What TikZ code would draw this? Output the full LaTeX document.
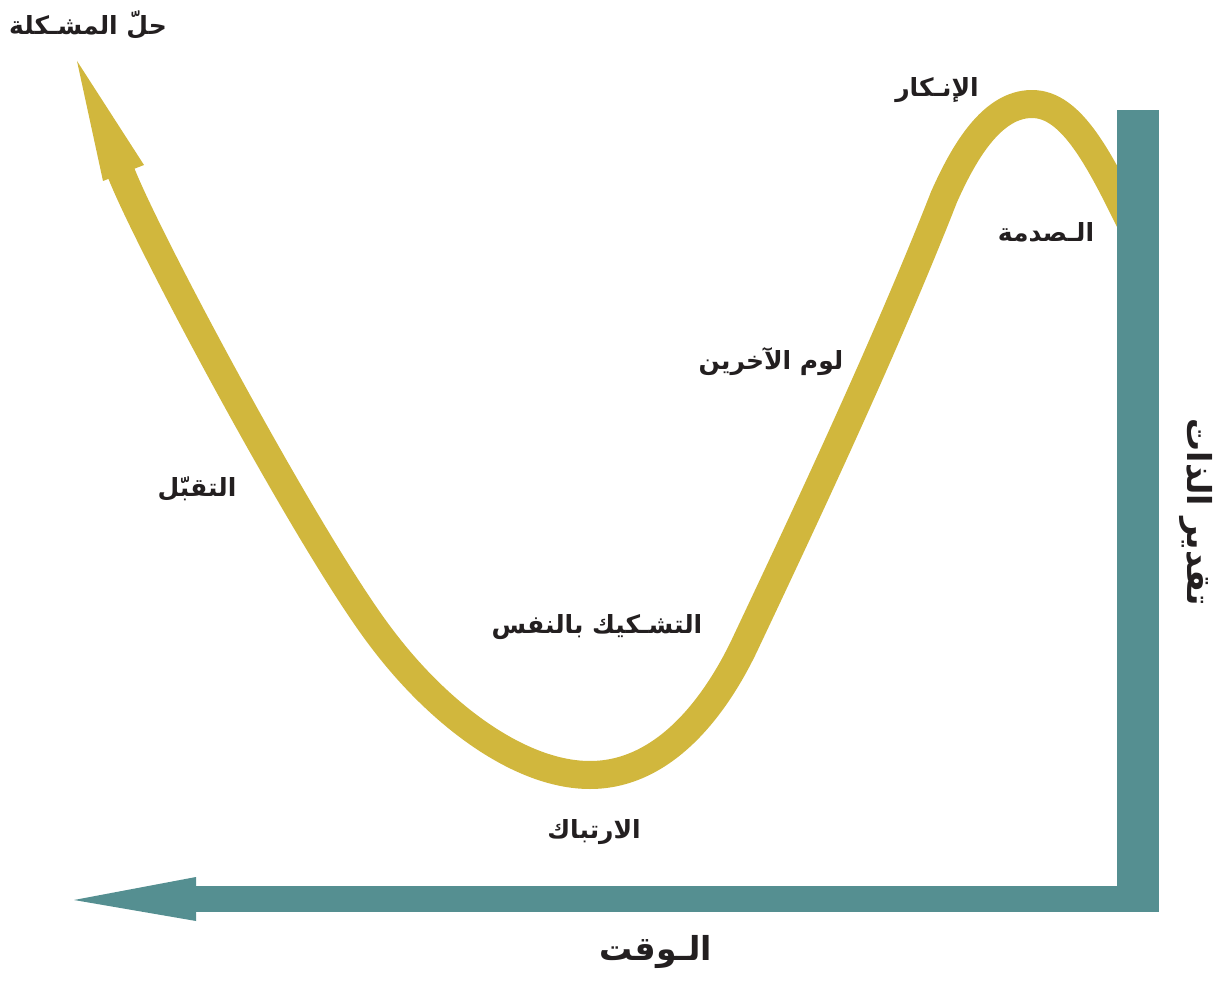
\documentclass[tikz,border=0pt]{standalone}
\usepackage{fontspec}
\newfontfamily\arabicfont[Script=Arabic]{DejaVu Sans}
\TeXXeTstate=1
\definecolor{teal}{RGB}{85,143,145}
\definecolor{gold}{RGB}{209,183,61}
\definecolor{ink}{RGB}{35,31,32}
\begin{document}
\begin{tikzpicture}[x=1pt,y=-1pt,
  lbl/.style={font=\arabicfont\bfseries\fontsize{25}{30}\selectfont, text=ink, inner sep=0pt},
  axislbl/.style={font=\arabicfont\bfseries\fontsize{33}{38}\selectfont, text=ink, inner sep=0pt},
  band/.style={draw=gold, line width=28pt, line cap=butt, line join=round},
  bar/.style={fill=teal, draw=none}]
  \useasboundingbox (0,0) rectangle (1221,981);

  % the self-esteem curve, from the shock (right) round to the arrow (left)
  \coordinate (tail)   at (1135,232);
  \coordinate (peak)   at (1032,104);
  \coordinate (knee)   at (944,197);
  \coordinate (rbend)  at (747,640);
  \coordinate (bottom) at (590,775);
  \coordinate (lbend)  at (383,640);
  \coordinate (head)   at (122,175);
  \coordinate (inhead) at (114,157);
  \draw[band] (tail)
    .. controls (1100,160) and (1072,104) .. (peak)
    .. controls (992,104) and (964,152) .. (knee)
    .. controls (886,345) and (806,515) .. (rbend)
    .. controls (717,705) and (665,775) .. (bottom)
    .. controls (520,775) and (440,715) .. (lbend)
    .. controls (312,548) and (150,245) .. (head)
    -- (inhead);
  \fill[gold] (77,61) -- (144,165) -- (103,181) -- cycle;

  % axes
  \fill[bar] (1117,110) rectangle (1159,912);
  \fill[bar] (196,886) rectangle (1159,912);
  \fill[bar] (196,877) -- (74,900) -- (196,921) -- cycle;

  % stage labels
  \node[lbl] (solve)   at (88,25)   {\beginR حلّ المشـكلة\endR};
  \node[lbl] (denial)  at (937,90)  {\beginR الإنـكار\endR};
  \node[lbl] (shock)   at (1046,232){\beginR الـصدمة\endR};
  \node[lbl] (blame)   at (771,362) {\beginR لوم الآخرين\endR};
  \node[lbl] (accept)  at (197,489) {\beginR التقبّل\endR};
  \node[lbl] (doubt)   at (597,627) {\beginR التشـكيك بالنفس\endR};
  \node[lbl] (confuse) at (594,832) {\beginR الارتباك\endR};

  % axis titles
  \node[axislbl] (time)   at (656,952)  {\beginR الـوقت\endR};
  \node[axislbl, rotate=-90] (esteem) at (1196,512) {\beginR تقدير الذات\endR};
\end{tikzpicture}
\end{document}
